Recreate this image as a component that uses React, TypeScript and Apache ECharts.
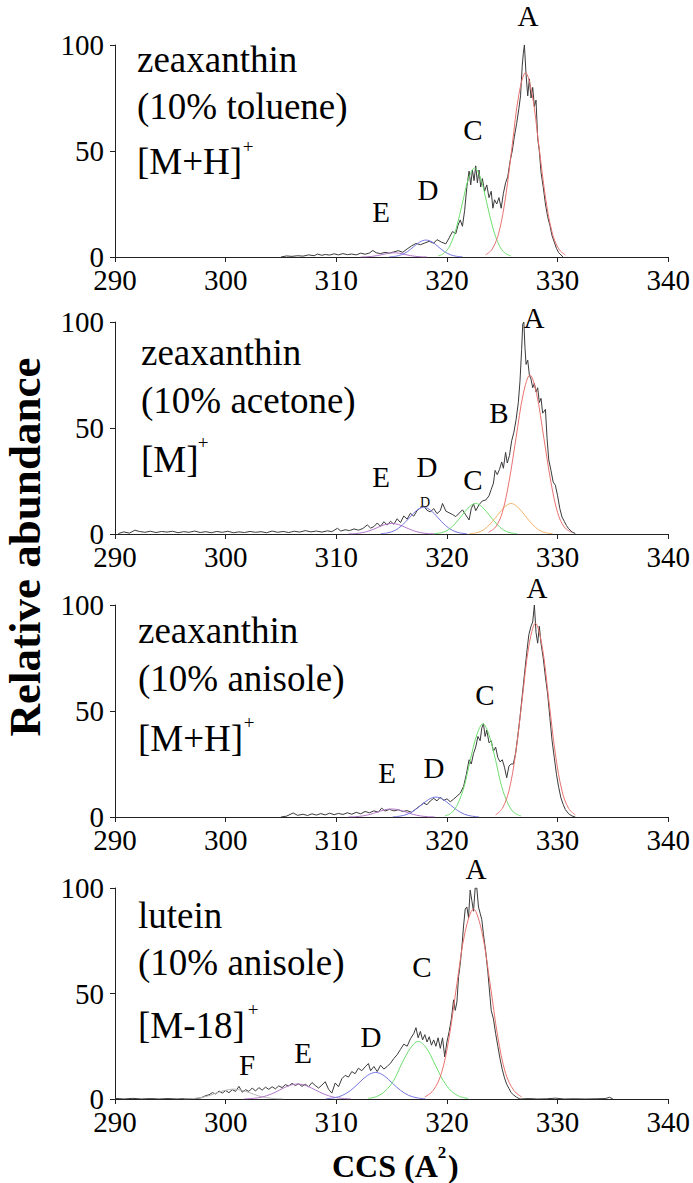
import React, { useEffect, useRef } from "react";
import * as echarts from "echarts";

const FONT = '"Liberation Serif", "Times New Roman", serif';

const xTicks = [290, 300, 310, 320, 330, 340];
const yTicks = [0, 50, 100];

// Panel 1: zeaxanthin (10% toluene) [M+H]+
const tolueneTrace = [[305.0,0],[305.5,0.5],[306,0.3],[306.5,0.6],[307,0.4],[307.5,1.0],[308,0.6],[308.3,1.4],[308.7,0.8],[309,1.2],[309.4,0.9],[309.8,1.5],[310.2,1.0],[310.6,1.6],[311,1.1],[311.4,1.4],[311.8,1.0],[312.2,1.8],[312.6,1.3],[313,1.9],[313.3,3.1],[313.6,2.0],[314,1.6],[314.4,2.2],[314.8,1.8],[315.2,2.4],[315.6,3.0],[316,2.2],[316.4,3.8],[316.8,5.2],[317.2,6.4],[317.6,5.8],[318,6.6],[318.4,7.4],[318.8,6.5],[319.1,8.2],[319.5,7.0],[319.9,6.2],[320.2,9.0],[320.5,12.0],[320.8,11.0],[321.0,15.0],[321.2,17.5],[321.4,14.5],[321.6,22],[321.8,33],[322,40.5],[322.15,34],[322.3,41],[322.45,36],[322.6,43],[322.75,35],[322.9,41],[323.05,33],[323.2,37],[323.4,31],[323.6,34],[323.8,28],[324,31],[324.15,23],[324.3,27],[324.5,25],[324.7,28],[324.9,23],[325.1,30],[325.3,35],[325.5,38],[325.7,45],[325.9,50],[326.1,57],[326.3,63],[326.5,70],[326.65,76],[326.8,90],[326.9,96],[327.0,100],[327.15,86],[327.3,76],[327.45,84],[327.6,75],[327.75,80],[327.9,71],[328.05,74],[328.2,56],[328.35,50],[328.5,40],[328.7,33],[328.9,25],[329.1,19],[329.3,15],[329.5,10],[329.7,7],[329.9,4],[330.1,2],[330.3,1],[330.5,0]];
const tolueneA = [[323.5,1.0],[324.1,3.8],[324.7,11.7],[325.3,28.3],[325.9,52.8],[326.5,76.7],[327.1,87],[327.7,76.7],[328.3,52.8],[328.9,28.3],[329.5,11.7],[330.1,3.8],[330.7,1.0]];
const tolueneC = [[319.2,0.5],[319.75,1.8],[320.3,5.7],[320.85,13.7],[321.4,25.5],[321.95,37.0],[322.5,42],[323.05,37.0],[323.6,25.5],[324.15,13.7],[324.7,5.7],[325.25,1.8],[325.8,0.5]];
const tolueneD = [[314.8,0.1],[315.35,0.35],[315.9,1.1],[316.45,2.6],[317.0,4.9],[317.55,7.1],[318.1,8],[318.65,7.1],[319.2,4.9],[319.75,2.6],[320.3,1.1],[320.85,0.35],[321.4,0.1]];
const tolueneE = [[312.2,0.02],[312.7,0.09],[313.2,0.27],[313.7,0.65],[314.2,1.2],[314.7,1.76],[315.2,2],[315.7,1.76],[316.2,1.2],[316.7,0.65],[317.2,0.27],[317.7,0.09],[318.2,0.02]];

// Panel 2: zeaxanthin (10% acetone) [M]+
const acetoneTrace = [[290.3,0.2],[290.8,1.0],[291.3,0.4],[291.8,1.8],[292.2,1.2],[292.7,0.8],[293.2,1.3],[293.7,0.7],[294.2,1.2],[294.7,0.9],[295.2,1.3],[295.7,0.6],[296.2,1.1],[296.7,0.8],[297.2,1.4],[297.7,0.7],[298.2,1.1],[298.7,0.6],[299.2,1.2],[299.7,0.8],[300.2,1.3],[300.7,0.6],[301.2,1.0],[301.7,0.7],[302.2,1.2],[302.7,0.8],[303.2,1.1],[303.7,0.6],[304.2,1.4],[304.7,0.8],[305.2,1.2],[305.7,0.7],[306.2,1.3],[306.7,0.9],[307.2,1.6],[307.7,1.0],[308.2,1.4],[308.7,0.9],[309.2,1.5],[309.6,1.1],[310.1,2.7],[310.4,1.4],[310.8,2.0],[311.2,1.6],[311.6,2.4],[312.0,1.8],[312.4,2.6],[312.8,4.3],[313.1,2.8],[313.4,3.5],[313.7,5.2],[314.0,3.6],[314.3,5.8],[314.6,4.2],[314.9,6.0],[315.2,4.6],[315.5,7.2],[315.8,5.4],[316.1,8.5],[316.4,7.0],[316.7,9.8],[317.0,8.4],[317.3,11.0],[317.6,12.4],[317.9,13.2],[318.2,11.2],[318.5,10.4],[318.8,12.0],[319.1,9.6],[319.4,11.0],[319.6,14.4],[319.9,10.8],[320.2,10.0],[320.5,9.2],[320.8,8.2],[321.1,9.8],[321.4,11.4],[321.7,9.0],[322.0,6.6],[322.2,12.0],[322.4,14.2],[322.6,11.0],[322.9,13.8],[323.2,15.6],[323.5,16.0],[323.8,18.0],[324.0,21.0],[324.2,24.0],[324.35,30.0],[324.55,28.0],[324.75,30.5],[324.95,34.0],[325.1,31.0],[325.3,38.5],[325.45,33.5],[325.65,37.0],[325.85,44.0],[326.05,48.0],[326.25,54.0],[326.45,62.0],[326.6,72.0],[326.75,87.0],[326.85,99.0],[326.95,100],[327.05,88.0],[327.15,80.0],[327.3,82.0],[327.45,75.0],[327.6,73.0],[327.75,69.0],[327.9,71.0],[328.05,67.0],[328.2,69.0],[328.35,62.0],[328.5,64.0],[328.65,57.0],[328.8,58.0],[328.9,58.8],[329.05,45.0],[329.2,35.0],[329.4,30.0],[329.6,24.5],[329.8,23.0],[330.0,18.0],[330.2,12.0],[330.4,8.0],[330.6,6.0],[330.8,4.0],[331.0,2.5],[331.3,1.0],[331.6,0.2]];
const acetoneA = [[323.75,0.8],[324.4,3.3],[325.0,10.1],[325.6,24.4],[326.25,45.5],[326.9,66.2],[327.5,75],[328.1,66.2],[328.75,45.5],[329.4,24.4],[330.0,10.1],[330.6,3.3],[331.25,0.8]];
const acetoneB = [[322.05,0.16],[322.7,0.63],[323.3,1.9],[323.9,4.7],[324.55,8.7],[325.2,12.7],[325.8,14.4],[326.4,12.7],[327.05,8.7],[327.7,4.7],[328.3,1.9],[328.9,0.63],[329.55,0.16]];
const acetoneC = [[318.85,0.16],[319.5,0.63],[320.1,1.9],[320.7,4.7],[321.35,8.7],[322.0,12.7],[322.6,14.4],[323.2,12.7],[323.85,8.7],[324.5,4.7],[325.1,1.9],[325.7,0.63],[326.35,0.16]];
const acetoneD = [[314.0,0.14],[314.65,0.55],[315.3,1.7],[315.95,4.1],[316.6,7.6],[317.25,11.1],[317.9,12.6],[318.55,11.1],[319.2,7.6],[319.85,4.1],[320.5,1.7],[321.15,0.55],[321.8,0.14]];
const acetoneE = [[311.1,0.06],[311.75,0.22],[312.4,0.68],[313.05,1.6],[313.7,3.0],[314.35,4.4],[315.0,5],[315.65,4.4],[316.3,3.0],[316.95,1.6],[317.6,0.68],[318.25,0.22],[318.9,0.06]];

// Panel 3: zeaxanthin (10% anisole) [M+H]+
const anisoleTrace = [[305.0,0],[305.5,0.4],[306.1,1.9],[306.5,0.8],[307.0,1.3],[307.4,0.7],[307.8,1.5],[308.2,0.9],[308.6,1.6],[309.0,1.0],[309.4,1.8],[309.8,1.1],[310.2,1.7],[310.6,1.2],[311.0,2.0],[311.4,1.3],[311.8,2.2],[312.2,1.5],[312.6,2.6],[313.0,2.0],[313.4,2.9],[313.8,2.3],[314.1,4.2],[314.4,2.8],[314.8,3.6],[315.2,2.9],[315.6,3.4],[316.0,2.6],[316.4,3.0],[316.8,2.2],[317.2,3.8],[317.6,5.4],[317.9,6.6],[318.2,5.8],[318.5,7.6],[318.8,8.8],[319.1,7.6],[319.4,9.4],[319.7,7.8],[320.0,8.6],[320.3,7.2],[320.6,8.4],[320.9,9.8],[321.2,11.2],[321.5,14.4],[321.75,20.0],[322.0,27.0],[322.2,25.0],[322.4,30.0],[322.6,33.0],[322.8,38.0],[323.0,36.0],[323.15,42.0],[323.3,44.0],[323.45,38.0],[323.6,41.0],[323.8,35.0],[324.0,36.0],[324.2,31.0],[324.4,33.0],[324.6,28.0],[324.8,26.0],[325.0,27.0],[325.2,23.5],[325.4,18.5],[325.6,24.0],[325.8,25.0],[326.0,25.0],[326.2,30.0],[326.4,38.0],[326.6,47.0],[326.8,57.0],[327.0,67.0],[327.2,77.0],[327.4,86.0],[327.6,90.0],[327.75,92.0],[327.9,100],[328.05,87.0],[328.2,82.0],[328.35,90.0],[328.5,82.0],[328.7,75.0],[328.9,66.0],[329.1,58.0],[329.3,47.0],[329.5,36.0],[329.7,28.0],[329.9,20.0],[330.1,14.0],[330.3,9.0],[330.5,6.0],[330.7,3.5],[331.0,1.5],[331.3,0.5],[331.6,0]];
const anisoleA = [[324.4,1.0],[325.0,4.0],[325.6,12.3],[326.2,29.7],[326.8,55.5],[327.4,80.6],[328.0,91.4],[328.6,80.6],[329.2,55.5],[329.8,29.7],[330.4,12.3],[331.0,4.0],[331.6,1.0]];
const anisoleC = [[319.8,0.5],[320.4,1.9],[320.95,5.9],[321.55,14.3],[322.1,26.7],[322.7,38.8],[323.25,44],[323.8,38.8],[324.4,26.7],[324.95,14.3],[325.55,5.9],[326.1,1.9],[326.7,0.5]];
const anisoleD = [[315.1,0.1],[315.75,0.41],[316.4,1.27],[317.05,3.1],[317.7,5.7],[318.35,8.3],[319.0,9.4],[319.65,8.3],[320.3,5.7],[320.95,3.1],[321.6,1.27],[322.25,0.41],[322.9,0.1]];
const anisoleE = [[311.1,0.04],[311.75,0.17],[312.4,0.51],[313.05,1.24],[313.7,2.3],[314.35,3.35],[315.0,3.8],[315.65,3.35],[316.3,2.3],[316.95,1.24],[317.6,0.51],[318.25,0.17],[318.9,0.04]];

// Panel 4: lutein (10% anisole) [M-18]+
const luteinTrace = [[290,0.3],[290.8,0],[291.6,0.3],[292.4,0],[293.2,0.2],[294,0],[294.8,0.2],[295.6,0],[296.4,0.2],[297.2,0.1],[297.8,0.6],[298.2,1.6],[298.5,2.0],[298.8,3.0],[299.1,2.4],[299.4,3.8],[299.7,2.8],[300.0,4.0],[300.3,3.0],[300.6,4.4],[300.9,3.6],[301.2,6.0],[301.5,3.2],[301.8,4.4],[302.1,3.6],[302.4,5.2],[302.7,3.8],[303.0,5.4],[303.3,4.2],[303.6,5.6],[303.9,4.6],[304.2,5.8],[304.5,4.8],[304.8,6.2],[305.1,5.4],[305.4,6.8],[305.7,6.2],[306.0,7.4],[306.3,6.4],[306.6,7.2],[306.9,6.0],[307.2,7.0],[307.5,5.8],[307.8,7.8],[308.1,6.4],[308.4,5.2],[308.7,6.6],[309.0,8.2],[309.3,4.6],[309.6,2.8],[309.9,7.6],[310.2,5.8],[310.5,9.6],[310.8,11.2],[311.1,10.4],[311.4,13.0],[311.7,12.0],[312.0,14.6],[312.3,13.4],[312.6,15.2],[312.9,16.8],[313.1,13.4],[313.4,15.4],[313.7,13.0],[314.0,16.0],[314.3,14.2],[314.6,15.4],[314.9,17.0],[315.2,19.2],[315.5,21.0],[315.8,23.5],[316.1,26.0],[316.4,25.0],[316.7,28.5],[317.0,31.0],[317.2,33.8],[317.4,29.0],[317.6,32.0],[317.8,28.0],[318.0,30.5],[318.2,27.0],[318.4,29.5],[318.6,25.5],[318.8,28.0],[319.0,25.0],[319.2,29.0],[319.4,24.0],[319.6,29.0],[319.8,20.0],[320.0,27.0],[320.2,32.0],[320.4,38.0],[320.6,47.0],[320.75,42.0],[320.9,46.0],[321.05,58.0],[321.2,64.0],[321.35,72.0],[321.5,82.0],[321.65,90.0],[321.8,91.0],[321.95,86.0],[322.1,99.0],[322.25,94.0],[322.4,89.0],[322.55,100],[322.7,100],[322.85,91.0],[323.0,88.0],[323.15,85.0],[323.3,78.0],[323.5,70.0],[323.7,60.0],[323.9,48.0],[324.0,42.0],[324.2,38.0],[324.4,31.0],[324.6,25.0],[324.8,19.0],[325.0,14.0],[325.2,10.0],[325.4,7.0],[325.6,5.0],[325.8,3.0],[326.0,2.0],[326.3,0.8],[326.6,0],[327.4,0.2],[328.2,0],[329.0,0.1],[329.8,0.4],[330.6,0],[331.5,0.1],[332.5,0],[333.5,0.1],[334.3,0.2],[334.7,0.8],[335.0,0]];
const luteinA = [[318.0,1.0],[318.75,4.0],[319.5,12.2],[320.2,29.3],[320.9,54.6],[321.65,79.4],[322.4,90],[323.15,79.4],[323.9,54.6],[324.6,29.3],[325.3,12.2],[326.05,4.0],[326.75,1.0]];
const luteinC = [[312.9,0.3],[313.65,1.2],[314.4,3.7],[315.2,8.9],[315.9,16.6],[316.7,24.1],[317.4,27.3],[318.15,24.1],[318.9,16.6],[319.65,8.9],[320.4,3.7],[321.15,1.2],[321.9,0.3]];
const luteinD = [[309.05,0.14],[309.8,0.55],[310.55,1.7],[311.3,4.1],[312.05,7.6],[312.8,11.1],[313.55,12.6],[314.3,11.1],[315.05,7.6],[315.8,4.1],[316.55,1.7],[317.3,0.55],[318.05,0.14]];
const luteinE = [[301.7,0.08],[302.5,0.31],[303.3,0.96],[304.1,2.3],[304.9,4.3],[305.7,6.3],[306.5,7.1],[307.3,6.3],[308.1,4.3],[308.9,2.3],[309.7,0.96],[310.5,0.31],[311.3,0.08]];
const luteinF = [[296.2,0.05],[296.95,0.21],[297.7,0.63],[298.45,1.5],[299.2,2.9],[299.95,4.1],[300.7,4.7],[301.45,4.1],[302.2,2.9],[302.95,1.5],[303.7,0.63],[304.45,0.21],[305.2,0.05]];

const COLORS: Record<string, string> = {
  trace: "#3a3a3a",
  A: "#e8726e",
  B: "#f3b46a",
  C: "#6ede6e",
  D: "#7676e0",
  E: "#b277c8",
  F: "#b8b8b8",
};

const panels = [
  { trace: tolueneTrace, fits: [["E", tolueneE], ["D", tolueneD], ["C", tolueneC], ["A", tolueneA]] },
  { trace: acetoneTrace, fits: [["E", acetoneE], ["D", acetoneD], ["C", acetoneC], ["B", acetoneB], ["A", acetoneA]] },
  { trace: anisoleTrace, fits: [["E", anisoleE], ["D", anisoleD], ["C", anisoleC], ["A", anisoleA]] },
  { trace: luteinTrace, fits: [["F", luteinF], ["E", luteinE], ["D", luteinD], ["C", luteinC], ["A", luteinA]] },
];

const GRID_TOPS = [45, 322, 605, 888];
const GRID_H = [212, 212, 212, 211];

function txt(x: number, y: number, text: string, size: number, extra: any = {}) {
  return {
    type: "text",
    x,
    y,
    silent: true,
    style: {
      text,
      fill: "#000",
      fontFamily: FONT,
      fontSize: size,
      align: "left",
      verticalAlign: "middle",
      ...extra,
    },
  };
}

function letter(x: number, y: number, t: string, size = 29) {
  return txt(x, y, t, size, { align: "center" });
}

export default function App() {
  const ref = useRef<HTMLDivElement>(null);
  useEffect(() => {
    if (!ref.current) return;
    const chart = echarts.init(ref.current, undefined, { renderer: "svg" });
    const grid: any[] = [];
    const xAxis: any[] = [];
    const yAxis: any[] = [];
    const series: any[] = [];
    panels.forEach((p, i) => {
      grid.push({ left: 115, width: 556, top: GRID_TOPS[i], height: GRID_H[i] });
      xAxis.push({
        type: "value",
        gridIndex: i,
        min: xTicks[0],
        max: xTicks[xTicks.length - 1],
        interval: 10,
        axisLine: { show: true, onZero: false, lineStyle: { color: "#222", width: 1 } },
        axisTick: { show: true, inside: false, length: 5, lineStyle: { color: "#222" } },
        splitLine: { show: false },
        axisLabel: { fontFamily: FONT, fontSize: 29, color: "#000", margin: 8 },
      });
      yAxis.push({
        type: "value",
        gridIndex: i,
        min: yTicks[0],
        max: yTicks[yTicks.length - 1],
        interval: 50,
        axisLine: { show: true, lineStyle: { color: "#222", width: 1 } },
        axisTick: { show: true, inside: false, length: 5, lineStyle: { color: "#222" } },
        splitLine: { show: false },
        axisLabel: { fontFamily: FONT, fontSize: 29, color: "#000", margin: 11 },
      });
      series.push({
        type: "line",
        xAxisIndex: i,
        yAxisIndex: i,
        data: p.trace,
        showSymbol: false,
        symbol: "none",
        lineStyle: { color: COLORS.trace, width: 1 },
        z: 2,
      });
      p.fits.forEach(([k, d]: any) => {
        series.push({
          type: "line",
          xAxisIndex: i,
          yAxisIndex: i,
          data: d,
          smooth: 0.35,
          showSymbol: false,
          symbol: "none",
          lineStyle: { color: COLORS[k], width: 1 },
          z: 3,
        });
      });
    });

    const graphic: any[] = [
      // panel 1
      txt(137, 59, "zeaxanthin", 37),
      txt(137, 106, "(10% toluene)", 37),
      txt(137, 161, "[M+H]", 37),
      txt(248, 146, "+", 19, { align: "center" }),
      letter(528, 16, "A"), letter(473, 130, "C"), letter(428, 190, "D"), letter(381, 212, "E"),
      // panel 2
      txt(141, 352, "zeaxanthin", 37),
      txt(141, 400, "(10% acetone)", 37),
      txt(141, 459, "[M]", 37),
      txt(203, 442, "+", 19, { align: "center" }),
      letter(534, 318, "A"), letter(499, 413, "B"), letter(473, 480, "C"), letter(427, 467, "D"), letter(381, 477, "E"),
      letter(425, 502, "D", 14),
      // panel 3
      txt(138, 630, "zeaxanthin", 37),
      txt(138, 678, "(10% anisole)", 37),
      txt(138, 738, "[M+H]", 37),
      txt(249, 722, "+", 19, { align: "center" }),
      letter(537, 588, "A"), letter(485, 695, "C"), letter(434, 768, "D"), letter(387, 773, "E"),
      // panel 4
      txt(138, 915, "lutein", 37),
      txt(138, 962, "(10% anisole)", 37),
      txt(138, 1025, "[M-18]", 37),
      txt(253, 1009, "+", 19, { align: "center" }),
      letter(476, 869, "A"), letter(422, 967, "C"), letter(371, 1037, "D"), letter(303, 1053, "E"), letter(247, 1065, "F"),
      // axis titles
      {
        type: "text",
        x: 25,
        y: 547,
        rotation: Math.PI / 2,
        silent: true,
        style: {
          text: "Relative abundance",
          fill: "#000",
          fontFamily: FONT,
          fontWeight: "bold",
          fontSize: 45,
          align: "center",
          verticalAlign: "middle",
        },
      },
      txt(332, 1166, "CCS (A", 32, { fontWeight: "bold" }),
      txt(442, 1152, "2", 17, { fontWeight: "bold", align: "center" }),
      txt(448, 1166, ")", 32, { fontWeight: "bold" }),
    ];

    chart.setOption({
      animation: false,
      backgroundColor: "#fff",
      grid,
      xAxis,
      yAxis,
      series,
      graphic,
    });
    return () => chart.dispose();
  }, []);
  return (
    <div
      ref={ref}
      style={{ position: "absolute", left: 0, top: 0, width: 693, height: 1183, background: "#fff" }}
    />
  );
}
